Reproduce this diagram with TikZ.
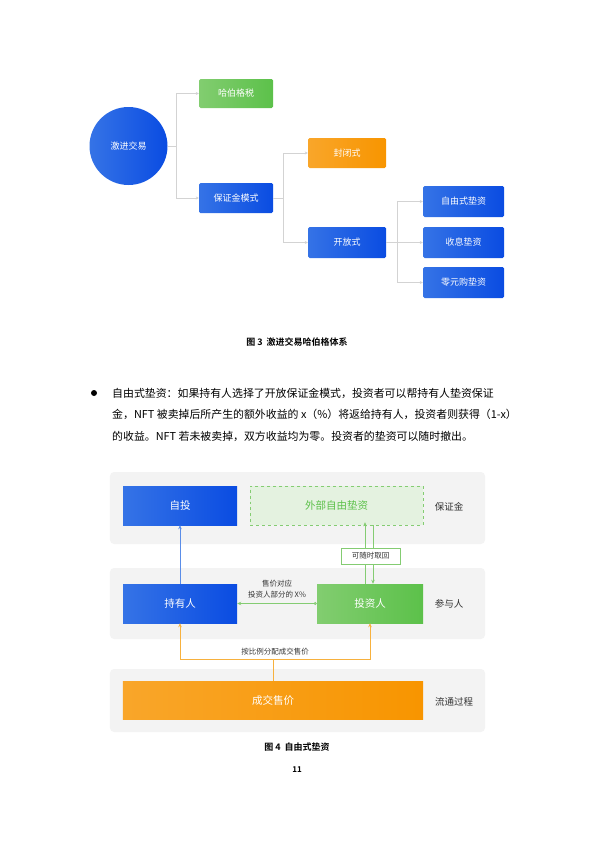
\documentclass[tikz,border=0pt]{standalone}
\usepackage{fontspec}
\setmainfont{Noto Sans CJK SC}[BoldFont={Noto Sans CJK SC Bold}]
\usetikzlibrary{arrows.meta}
\definecolor{blueA}{HTML}{3573E6}
\definecolor{blueB}{HTML}{0A4CE2}
\definecolor{greenA}{HTML}{82CD70}
\definecolor{greenB}{HTML}{5CC14A}
\definecolor{orangeA}{HTML}{F9A62A}
\definecolor{orangeB}{HTML}{F89500}
\definecolor{linegray}{HTML}{D3D3D3}
\definecolor{bandgray}{HTML}{F3F3F3}
\definecolor{softgreen}{HTML}{E4F2E0}
\definecolor{midgreen}{HTML}{84CC72}
\definecolor{arrowblue}{HTML}{5A8DE8}
\definecolor{lineorange}{HTML}{F7B13E}
\definecolor{textgray}{HTML}{333333}
\begin{document}
\begin{tikzpicture}[x=1bp,y=-1bp,
    box/.style={rectangle,rounded corners=1.5bp,text=white,inner sep=0pt,
      font=\fontsize{9bp}{10bp}\selectfont},
    bluebox/.style={box,left color=blueA,right color=blueB},
    greenbox/.style={box,left color=greenA,right color=greenB},
    orangebox/.style={box,left color=orangeA,right color=orangeB},
    link/.style={draw=linegray,line width=0.6bp,-{Stealth[length=3bp,width=3bp]}},
    flow/.style={line width=0.8bp,-{Stealth[length=4bp,width=3.5bp]}},
    band/.style={rectangle,rounded corners=4bp,fill=bandgray,inner sep=0pt},
    bigtext/.style={font=\fontsize{10.5bp}{12bp}\selectfont},
    sidetext/.style={text=textgray,font=\fontsize{9.5bp}{11bp}\selectfont},
    smalltext/.style={text=textgray,font=\fontsize{7.5bp}{9bp}\selectfont,align=center},
    bodytext/.style={anchor=west,inner sep=0pt,font=\fontsize{10.9bp}{13bp}\selectfont},
    captext/.style={font=\bfseries\fontsize{9bp}{11bp}\selectfont}]
  \useasboundingbox (0,0) rectangle (595,842);

  % figure 3
  \node[circle,left color=blueA,right color=blueB,text=white,minimum size=78bp,
    font=\fontsize{9bp}{10bp}\selectfont] (jijin) at (128.5,146) {激进交易};
  \node[greenbox,minimum width=74bp,minimum height=29bp] (habo) at (236,93.5) {哈伯格税};
  \node[bluebox,minimum width=74bp,minimum height=30bp] (baozheng) at (236,198) {保证金模式};
  \node[orangebox,minimum width=78bp,minimum height=30bp] (fengbi) at (347,153) {封闭式};
  \node[bluebox,minimum width=78bp,minimum height=31bp] (kaifang) at (347,242.5) {开放式};
  \node[bluebox,minimum width=81bp,minimum height=31bp] (ziyou) at (463.5,201.5) {自由式垫资};
  \node[bluebox,minimum width=81bp,minimum height=31bp] (shouxi) at (463.5,242.5) {收息垫资};
  \node[bluebox,minimum width=81bp,minimum height=31bp] (lingyuan) at (463.5,282.5) {零元购垫资};

  \draw[link] (jijin.east) -- ++(9,0) |- (habo.west);
  \draw[link] (jijin.east) -- ++(9,0) |- (baozheng.west);
  \draw[link] (baozheng.east) -- ++(10,0) |- (fengbi.west);
  \draw[link] (baozheng.east) -- ++(10,0) |- (kaifang.west);
  \draw[link] (kaifang.east) -- ++(11,0) |- (ziyou.west);
  \draw[link] (kaifang.east) -- ++(11,0) |- (shouxi.west);
  \draw[link] (kaifang.east) -- ++(11,0) |- (lingyuan.west);

  \node[captext] (cap3) at (297,342) {图 3\ \ 激进交易哈伯格体系};

  % text
  \node[circle,fill=black,minimum size=6bp,inner sep=0pt] (dot) at (94,393) {};
  \node[bodytext] (line1) at (112,393) {自由式垫资：如果持有人选择了开放保证金模式，投资者可以帮持有人垫资保证};
  \node[bodytext] (line2) at (112,414.5) {金，NFT 被卖掉后所产生的额外收益的 x（\%）将返给持有人，投资者则获得（1-x）};
  \node[bodytext] (line3) at (112,436) {的收益。NFT 若未被卖掉，双方收益均为零。投资者的垫资可以随时撤出。};

  % figure 4
  \node[band,minimum width=375bp,minimum height=72bp] (bandA) at (297.5,508) {};
  \node[band,minimum width=375bp,minimum height=71bp] (bandB) at (297.5,603.5) {};
  \node[band,minimum width=375bp,minimum height=63bp] (bandC) at (297.5,700.5) {};

  \node[bluebox,rounded corners=0pt,bigtext,minimum width=114bp,minimum height=39bp] (zitou) at (180,505.5) {自投};
  \node[rectangle,draw=midgreen,dashed,fill=softgreen,text=greenB,inner sep=0pt,bigtext,
    minimum width=173bp,minimum height=39bp] (waibu) at (336.5,505.5) {外部自由垫资};
  \node[sidetext] (baozhengjin) at (449,507) {保证金};

  \node[bluebox,rounded corners=0pt,bigtext,minimum width=114bp,minimum height=39bp] (chiyou) at (180,603.5) {持有人};
  \node[greenbox,rounded corners=0pt,bigtext,minimum width=106bp,minimum height=39bp] (touzi) at (370,603.5) {投资人};
  \node[sidetext] (canyu) at (449,604) {参与人};

  \node[orangebox,rounded corners=0pt,bigtext,minimum width=300bp,minimum height=38bp] (chengjiao) at (273,700) {成交售价};
  \node[sidetext] (liutong) at (454,702) {流通过程};

  \draw[flow,arrowblue] (chiyou.north) -- (zitou.south);
  \draw[flow,midgreen]
    ([xshift=-5bp]touzi.north) -- ([xshift=-5bp,yshift=3bp]touzi.north |- waibu.south);
  \draw[flow,midgreen]
    ([xshift=3bp]touzi.north |- waibu.south) -- ([xshift=3bp]touzi.north);
  \node[rectangle,draw=midgreen,fill=white,line width=0.8bp,smalltext,minimum width=59bp,
    minimum height=16bp,inner sep=0pt] (quhui) at (370.5,556) {可随时取回};

  \draw[flow,midgreen,{Circle[open,length=3bp]}-{Stealth[length=4bp,width=3.5bp]}]
    (touzi.west) -- (chiyou.east);
  \node[smalltext,font=\fontsize{7.5bp}{11bp}\selectfont] (shoujia) at (277,589) {售价对应\\投资人部分的 X\%};

  \draw[lineorange,line width=0.8bp] (chengjiao.north) -- ++(0,-21) coordinate (fork);
  \draw[flow,lineorange] (fork) -| (chiyou.south);
  \draw[flow,lineorange] (fork) -| (touzi.south);
  \node[smalltext] (fenpei) at (275,651.5) {按比例分配成交售价};

  \node[captext] (cap4) at (297,747) {图 4\ \ 自由式垫资};
  \node[font=\bfseries\fontsize{8bp}{10bp}\selectfont] (page) at (297,770) {11};
\end{tikzpicture}
\end{document}
